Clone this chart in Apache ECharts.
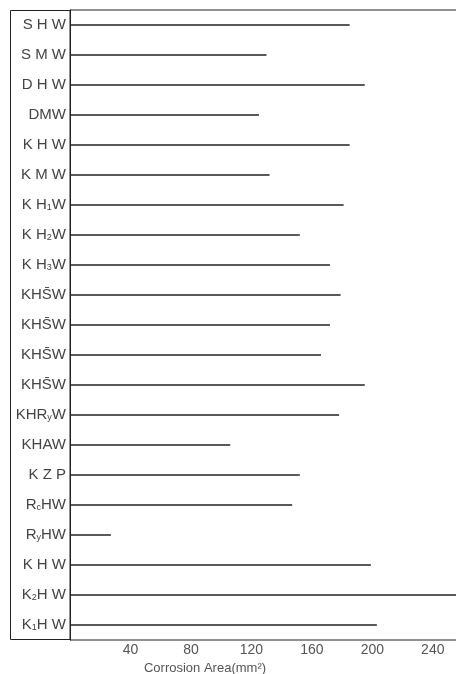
<!DOCTYPE html>
<html>
<head>
<meta charset="utf-8">
<script src="https://cdn.jsdelivr.net/npm/echarts@6/dist/echarts.min.js"></script>
<style>
  html, body { margin: 0; padding: 0; background: #fff; }
  #chart { width: 456px; height: 674px; }
</style>
</head>
<body>
<div id="chart"></div>
<script>
// samples, top to bottom (_x = subscript x)
var samples = ['S H W', 'S M W', 'D H W', 'DMW', 'K H W', 'K M W', 'K H_1W', 'K H_2W', 'K H_3W',
  'KHS\u0304W', 'KHS\u0304W', 'KHS\u0304W', 'KHS\u0304W', 'KHR_yW', 'KHAW', 'K Z P',
  'R_cHW', 'R_yHW', 'K H W', 'K_2H W', 'K_1H W'];

// corrosion area, mm2
var area = [185, 130, 195, 125, 185, 132, 181, 152, 172,
  179, 172, 166, 195, 178, 106, 152,
  147, 27, 199, 258, 203];

var ticks = [40, 80, 120, 160, 200, 240];

var myChart = echarts.init(document.getElementById('chart'));

var option = {
  animation: false,
  grid: {
    left: 70,
    top: 10,
    right: -4,
    bottom: 34,
    outerBoundsMode: 'none',
    containLabel: false,
    show: true,
    borderColor: '#222',
    borderWidth: 1
  },
  graphic: [{
    type: 'rect',
    shape: { x: 10.5, y: 10.5, width: 60, height: 629 },
    style: { fill: 'none', stroke: '#222', lineWidth: 1 }
  }],
  xAxis: {
    type: 'value',
    min: 0,
    max: 258,
    interval: 40,
    name: 'Corrosion Area(mm\u00b2)',
    nameLocation: 'middle',
    nameGap: 13,
    nameTextStyle: { color: '#555', fontSize: 13, padding: [0, 120, 0, 0] },
    axisLine: { show: false },
    axisTick: { show: false },
    splitLine: { show: false },
    axisLabel: {
      color: '#555',
      fontSize: 14,
      margin: 3,
      formatter: function (v) {
        return ticks.indexOf(v) >= 0 ? v : '';
      }
    }
  },
  yAxis: {
    type: 'category',
    inverse: true,
    data: samples,
    axisLine: { show: true, lineStyle: { color: '#222', width: 1 } },
    axisTick: { show: false },
    axisLabel: {
      margin: 4,
      formatter: function (s) {
        return '{n|' + s.replace(/_(.)/g, '}{s|$1}{n|') + '}';
      },
      rich: {
        n: { fontSize: 15, color: '#444', verticalAlign: 'bottom' },
        s: { fontSize: 9, color: '#444', verticalAlign: 'bottom' }
      }
    }
  },
  series: [{
    type: 'bar',
    data: area,
    barWidth: 1.5,
    itemStyle: { color: '#222' }
  }]
};

myChart.setOption(option);
</script>
</body>
</html>
